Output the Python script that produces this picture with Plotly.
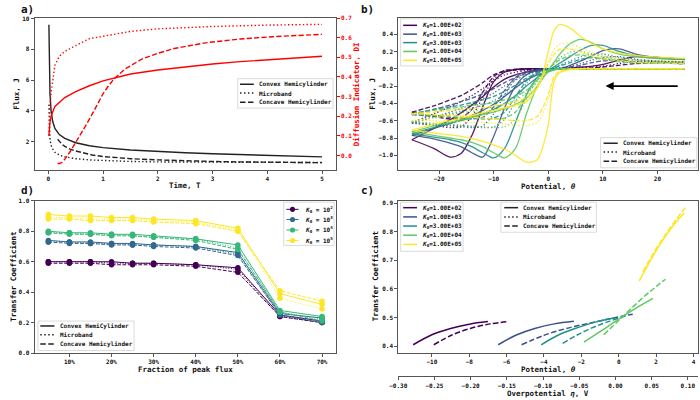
import plotly.graph_objects as go

W, H = 700, 400
FONT = "DejaVu Sans Mono"
BLACK = "#222222"
RED = "#ff0000"
VIR5 = ["#440154", "#3b528b", "#21918c", "#5ec962", "#fde725"]
VIR4 = ["#440154", "#31688e", "#35b779", "#fde725"]

# ---------------- Panel a data ----------------
T_CONVEX = [0.01, 0.015, 0.02, 0.03, 0.05, 0.08, 0.12, 0.2, 0.3, 0.5, 0.75, 1.0, 1.5, 2.0, 2.5, 3.0, 3.5, 4.0, 4.5, 5.0]
J_CONVEX = [9.6, 7.5, 6.3, 5.1, 4.0, 3.3, 2.85, 2.45, 2.2, 1.92, 1.72, 1.6, 1.45, 1.35, 1.27, 1.2, 1.14, 1.09, 1.04, 1.0]
DI_CONVEX = [0.1, 0.13, 0.15, 0.17, 0.2, 0.225, 0.25, 0.27, 0.295, 0.325, 0.355, 0.38, 0.415, 0.435, 0.452, 0.466, 0.478, 0.488, 0.497, 0.505]
T_MICRO = [0.01, 0.015, 0.02, 0.03, 0.05, 0.08, 0.12, 0.2, 0.3, 0.5, 0.75, 1.0, 1.5, 2.0, 3.0, 4.0, 5.0]
J_MICRO = [4.4, 3.2, 2.6, 2.1, 1.75, 1.5, 1.3, 1.12, 1.0, 0.88, 0.8, 0.75, 0.7, 0.67, 0.65, 0.64, 0.63]
DI_MICRO = [0.1, 0.16, 0.2, 0.25, 0.32, 0.39, 0.46, 0.505, 0.53, 0.56, 0.595, 0.607, 0.632, 0.645, 0.657, 0.664, 0.668]
T_CONCAVE = [0.17, 0.2, 0.25, 0.3, 0.4, 0.5, 0.6, 0.8, 1.0, 1.5, 2.0, 2.5, 3.0, 3.5, 4.0, 4.5, 5.0]
J_CONCAVE = [2.15, 2.0, 1.82, 1.68, 1.5, 1.38, 1.28, 1.12, 1.02, 0.88, 0.8, 0.74, 0.7, 0.67, 0.65, 0.63, 0.62]
T_CONCAVE_DI = [0.17, 0.2, 0.25, 0.3, 0.4, 0.5, 0.6, 0.7, 0.8, 0.9, 1.0, 1.1, 1.2, 1.4, 1.7, 2.0, 2.3, 2.9, 3.5, 4.1, 5.0]
DI_CONCAVE = [-0.04, -0.042, -0.035, -0.02, 0.02, 0.065, 0.11, 0.16, 0.21, 0.265, 0.315, 0.355, 0.39, 0.44, 0.49, 0.52, 0.545, 0.575, 0.593, 0.605, 0.617]

# ---------------- Panel b data (forward: lower branch, reverse: upper branch) ----------------
THETA_B = [-25, -21, -18, -16, -14, -12, -10, -8, -6, -4, -2, -1, 0, 1, 2, 4, 6, 8, 10, 13, 16, 20, 25]
K_LABELS_B = ["1.00E+02", "1.00E+03", "3.00E+03", "1.00E+04", "1.00E+05"]

K2_CONVEX_F = [-0.82, -0.92, -1.02, -0.98, -0.77, -0.44, -0.15, -0.04, -0.01, 0, 0, 0, 0, 0, 0, 0, 0, 0, 0, 0, 0, 0, 0]
K2_CONVEX_R = [-0.82, -0.69, -0.59, -0.51, -0.42, -0.32, -0.21, -0.12, -0.07, -0.04, -0.02, -0.015, -0.01, -0.005, 0, 0.01, 0.02, 0.03, 0.05, 0.1, 0.14, 0.13, 0.105]
K2_MICRO_F = [-0.62, -0.65, -0.68, -0.67, -0.55, -0.33, -0.12, -0.03, -0.01, 0, 0, 0, 0, 0, 0, 0, 0, 0, 0, 0, 0, 0, 0]
K2_MICRO_R = [-0.62, -0.52, -0.44, -0.38, -0.31, -0.23, -0.14, -0.07, -0.04, -0.02, -0.01, -0.01, -0.005, 0, 0, 0.005, 0.01, 0.02, 0.03, 0.06, 0.085, 0.085, 0.075]
K2_CONCAVE_F = [-0.5, -0.55, -0.58, -0.57, -0.47, -0.27, -0.09, -0.02, -0.005, 0, 0, 0, 0, 0, 0, 0, 0, 0, 0, 0, 0, 0, 0]
K2_CONCAVE_R = [-0.5, -0.43, -0.36, -0.31, -0.24, -0.16, -0.07, -0.03, -0.015, -0.01, -0.005, -0.003, 0, 0, 0, 0.003, 0.005, 0.01, 0.02, 0.04, 0.06, 0.065, 0.06]

K3_CONVEX_F = [-0.77, -0.81, -0.86, -0.9, -0.97, -1.02, -0.78, -0.45, -0.2, -0.07, -0.02, -0.01, 0, 0, 0, 0, 0, 0, 0, 0, 0, 0, 0]
K3_CONVEX_R = [-0.77, -0.69, -0.63, -0.59, -0.54, -0.48, -0.41, -0.32, -0.22, -0.13, -0.07, -0.05, -0.03, -0.01, 0.0, 0.04, 0.09, 0.15, 0.21, 0.23, 0.17, 0.13, 0.11]
K3_MICRO_F = [-0.63, -0.65, -0.66, -0.67, -0.68, -0.66, -0.52, -0.3, -0.12, -0.04, -0.01, 0, 0, 0, 0, 0, 0, 0, 0, 0, 0, 0, 0]
K3_MICRO_R = [-0.63, -0.56, -0.5, -0.46, -0.41, -0.35, -0.28, -0.2, -0.13, -0.07, -0.035, -0.02, -0.01, 0, 0.01, 0.03, 0.06, 0.1, 0.13, 0.14, 0.11, 0.09, 0.08]
K3_CONCAVE_F = [-0.53, -0.55, -0.56, -0.57, -0.58, -0.56, -0.44, -0.25, -0.1, -0.03, -0.01, 0, 0, 0, 0, 0, 0, 0, 0, 0, 0, 0, 0]
K3_CONCAVE_R = [-0.53, -0.47, -0.42, -0.38, -0.34, -0.29, -0.23, -0.16, -0.1, -0.055, -0.03, -0.02, -0.01, 0, 0.008, 0.02, 0.04, 0.07, 0.09, 0.1, 0.08, 0.065, 0.06]

K33_CONVEX_F = [-0.75, -0.79, -0.82, -0.85, -0.9, -0.97, -1.03, -0.92, -0.62, -0.3, -0.1, -0.05, -0.02, -0.01, 0, 0, 0, 0, 0, 0, 0, 0, 0]
K33_CONVEX_R = [-0.75, -0.68, -0.63, -0.6, -0.56, -0.52, -0.47, -0.4, -0.31, -0.2, -0.1, -0.06, -0.02, 0.02, 0.06, 0.14, 0.22, 0.27, 0.27, 0.2, 0.15, 0.12, 0.11]
K33_MICRO_F = [-0.62, -0.64, -0.65, -0.66, -0.67, -0.68, -0.67, -0.58, -0.38, -0.17, -0.05, -0.02, -0.01, 0, 0, 0, 0, 0, 0, 0, 0, 0, 0]
K33_MICRO_R = [-0.62, -0.56, -0.52, -0.49, -0.46, -0.42, -0.37, -0.3, -0.22, -0.13, -0.06, -0.03, -0.01, 0.01, 0.04, 0.09, 0.14, 0.17, 0.17, 0.13, 0.1, 0.085, 0.08]
K33_CONCAVE_F = [-0.52, -0.54, -0.55, -0.56, -0.57, -0.58, -0.57, -0.5, -0.32, -0.14, -0.04, -0.02, -0.01, 0, 0, 0, 0, 0, 0, 0, 0, 0, 0]
K33_CONCAVE_R = [-0.52, -0.47, -0.44, -0.42, -0.39, -0.36, -0.32, -0.26, -0.19, -0.11, -0.05, -0.03, -0.01, 0.01, 0.03, 0.07, 0.11, 0.13, 0.12, 0.09, 0.07, 0.065, 0.06]

K4_CONVEX_F = [-0.73, -0.77, -0.8, -0.82, -0.85, -0.9, -0.97, -1.03, -0.92, -0.52, -0.2, -0.1, -0.04, -0.015, -0.005, 0, 0, 0, 0, 0, 0, 0, 0]
K4_CONVEX_R = [-0.73, -0.66, -0.62, -0.59, -0.56, -0.53, -0.5, -0.46, -0.41, -0.34, -0.2, -0.11, -0.02, 0.07, 0.16, 0.29, 0.34, 0.3, 0.23, 0.17, 0.14, 0.12, 0.11]
K4_MICRO_F = [-0.61, -0.63, -0.64, -0.65, -0.66, -0.67, -0.68, -0.67, -0.58, -0.35, -0.12, -0.06, -0.02, -0.005, 0, 0, 0, 0, 0, 0, 0, 0, 0]
K4_MICRO_R = [-0.61, -0.56, -0.53, -0.51, -0.49, -0.47, -0.44, -0.41, -0.36, -0.28, -0.15, -0.08, -0.01, 0.06, 0.12, 0.19, 0.2, 0.17, 0.14, 0.11, 0.095, 0.085, 0.08]
K4_CONCAVE_F = [-0.52, -0.54, -0.55, -0.56, -0.57, -0.57, -0.58, -0.57, -0.5, -0.3, -0.1, -0.05, -0.02, -0.005, 0, 0, 0, 0, 0, 0, 0, 0, 0]
K4_CONCAVE_R = [-0.52, -0.48, -0.46, -0.44, -0.42, -0.41, -0.39, -0.36, -0.32, -0.25, -0.13, -0.07, -0.01, 0.05, 0.1, 0.15, 0.16, 0.13, 0.11, 0.08, 0.07, 0.065, 0.06]

K5_CONVEX_F = [-0.71, -0.74, -0.765, -0.78, -0.805, -0.84, -0.88, -0.93, -1.0, -1.08, -1.05, -0.9, -0.65, -0.16, -0.05, -0.01, 0, 0, 0, 0, 0, 0, 0]
K5_CONVEX_R = [-0.71, -0.64, -0.6, -0.57, -0.54, -0.51, -0.48, -0.45, -0.42, -0.38, -0.22, -0.06, 0.2, 0.43, 0.51, 0.47, 0.37, 0.29, 0.23, 0.18, 0.155, 0.135, 0.12]
K5_MICRO_F = [-0.6, -0.6, -0.61, -0.61, -0.62, -0.62, -0.63, -0.64, -0.65, -0.66, -0.62, -0.52, -0.35, -0.12, -0.04, -0.005, 0, 0, 0, 0, 0, 0, 0]
K5_MICRO_R = [-0.6, -0.57, -0.55, -0.54, -0.52, -0.5, -0.48, -0.46, -0.43, -0.37, -0.22, -0.1, 0.08, 0.21, 0.28, 0.29, 0.24, 0.19, 0.15, 0.12, 0.1, 0.09, 0.08]
K5_CONCAVE_F = [-0.52, -0.53, -0.54, -0.55, -0.56, -0.57, -0.58, -0.59, -0.6, -0.6, -0.55, -0.45, -0.3, -0.1, -0.03, -0.005, 0, 0, 0, 0, 0, 0, 0]
K5_CONCAVE_R = [-0.52, -0.5, -0.48, -0.47, -0.46, -0.45, -0.43, -0.41, -0.38, -0.33, -0.2, -0.09, 0.06, 0.16, 0.22, 0.23, 0.19, 0.15, 0.12, 0.09, 0.075, 0.065, 0.06]

B_SERIES = [
    [(K2_CONVEX_F, K2_CONVEX_R), (K2_MICRO_F, K2_MICRO_R), (K2_CONCAVE_F, K2_CONCAVE_R)],
    [(K3_CONVEX_F, K3_CONVEX_R), (K3_MICRO_F, K3_MICRO_R), (K3_CONCAVE_F, K3_CONCAVE_R)],
    [(K33_CONVEX_F, K33_CONVEX_R), (K33_MICRO_F, K33_MICRO_R), (K33_CONCAVE_F, K33_CONCAVE_R)],
    [(K4_CONVEX_F, K4_CONVEX_R), (K4_MICRO_F, K4_MICRO_R), (K4_CONCAVE_F, K4_CONCAVE_R)],
    [(K5_CONVEX_F, K5_CONVEX_R), (K5_MICRO_F, K5_MICRO_R), (K5_CONCAVE_F, K5_CONCAVE_R)],
]
ARROW_FROM = (24.0, -0.2)
ARROW_TO = (10.5, -0.2)

# ---------------- Panel d data ----------------
FRACTION = [5, 10, 15, 20, 25, 30, 40, 50, 60, 70]
FRACTION_TICKS = [10, 20, 30, 40, 50, 60, 70]
FRACTION_LABELS = ["10%", "20%", "30%", "40%", "50%", "60%", "70%"]
K_LABELS_D = ["2", "3", "4", "5"]
D_K2 = ([0.60, 0.60, 0.60, 0.60, 0.59, 0.59, 0.58, 0.56, 0.25, 0.21],
        [0.60, 0.60, 0.60, 0.59, 0.59, 0.59, 0.58, 0.55, 0.24, 0.20],
        [0.59, 0.59, 0.59, 0.58, 0.58, 0.58, 0.57, 0.53, 0.24, 0.20])
D_K3 = ([0.74, 0.73, 0.73, 0.72, 0.72, 0.71, 0.70, 0.66, 0.26, 0.23],
        [0.73, 0.73, 0.72, 0.72, 0.71, 0.71, 0.70, 0.65, 0.25, 0.21],
        [0.73, 0.72, 0.72, 0.71, 0.71, 0.70, 0.69, 0.64, 0.25, 0.20])
D_K4 = ([0.80, 0.79, 0.79, 0.78, 0.78, 0.77, 0.75, 0.71, 0.28, 0.24],
        [0.79, 0.79, 0.78, 0.78, 0.77, 0.76, 0.75, 0.69, 0.27, 0.22],
        [0.79, 0.78, 0.78, 0.77, 0.77, 0.76, 0.74, 0.68, 0.27, 0.21])
D_K5 = ([0.91, 0.90, 0.90, 0.89, 0.89, 0.88, 0.87, 0.82, 0.39, 0.32],
        [0.89, 0.89, 0.88, 0.88, 0.88, 0.87, 0.86, 0.81, 0.36, 0.29],
        [0.88, 0.88, 0.87, 0.87, 0.87, 0.86, 0.85, 0.80, 0.41, 0.34])
D_SERIES = [D_K2, D_K3, D_K4, D_K5]

# ---------------- Panel c data ----------------
C_SERIES = [
    (([-11.0, -10.0, -9.0, -8.0, -7.0], [0.405, 0.44, 0.462, 0.477, 0.486]),
     ([-9.9, -8.9, -7.9, -6.9, -5.9], [0.405, 0.44, 0.463, 0.478, 0.486])),
    (([-6.45, -5.45, -4.45, -3.45, -2.4], [0.405, 0.44, 0.463, 0.478, 0.487]),
     ([-5.2, -4.0, -2.8, -1.6, -0.4, 0.75], [0.405, 0.438, 0.462, 0.48, 0.497, 0.512])),
    (([-4.15, -3.2, -2.2, -1.2, -0.2], [0.405, 0.44, 0.465, 0.485, 0.499]),
     ([-3.0, -2.2, -1.4, -0.6, 0.35], [0.41, 0.44, 0.465, 0.485, 0.505])),
    (([-1.86, -0.9, 0.0, 0.9, 1.83], [0.414, 0.455, 0.495, 0.532, 0.567]),
     ([-0.8, 0.0, 0.8, 1.6, 2.5], [0.44, 0.49, 0.54, 0.587, 0.634])),
    (([1.1, 1.7, 2.3, 2.9, 3.5], [0.628, 0.70, 0.765, 0.82, 0.865]),
     ([1.3, 1.9, 2.5, 3.1, 3.6], [0.66, 0.73, 0.79, 0.845, 0.887])),
]
ETA_RANGE = [-0.300, 0.1145]
ETA_TICKS = [-0.30, -0.25, -0.20, -0.15, -0.10, -0.05, 0.00, 0.05, 0.10]

GEOM = ["Convex Hemicylinder", "Microband", "Concave Hemicylinder"]


def dash_for(style, lw):
    if style == "solid":
        return "solid"
    if style == "dot":
        return f"{1.0*lw:.2f}px,{1.65*lw:.2f}px"
    return f"{3.7*lw:.2f}px,{1.6*lw:.2f}px"


STYLES = ["solid", "dot", "dash"]

fig = go.Figure()

# ---- panel a ----
LW_A = 1.4
for t, j, st in [(T_CONVEX, J_CONVEX, "solid"), (T_MICRO, J_MICRO, "dot"), (T_CONCAVE, J_CONCAVE, "dash")]:
    fig.add_trace(go.Scatter(x=t, y=j, mode="lines", xaxis="x", yaxis="y",
                             line=dict(color=BLACK, width=LW_A, dash=dash_for(st, LW_A))))
for t, d, st in [(T_CONVEX, DI_CONVEX, "solid"), (T_MICRO, DI_MICRO, "dot"), (T_CONCAVE_DI, DI_CONCAVE, "dash")]:
    fig.add_trace(go.Scatter(x=t, y=d, mode="lines", xaxis="x", yaxis="y2",
                             line=dict(color=RED, width=LW_A, dash=dash_for(st, LW_A))))

# ---- panel b ----
LW_B = 1.3
for k, geoms in enumerate(B_SERIES):
    for g, (fwd, rev) in enumerate(geoms):
        for branch in (fwd, rev):
            fig.add_trace(go.Scatter(x=THETA_B, y=branch, mode="lines", xaxis="x2", yaxis="y3",
                                     opacity=0.9,
                                     line=dict(color=VIR5[k], width=LW_B, dash=dash_for(STYLES[g], LW_B),
                                               shape="spline", smoothing=0.8)))
fig.add_annotation(x=ARROW_TO[0], y=ARROW_TO[1], ax=ARROW_FROM[0], ay=ARROW_FROM[1],
                   xref="x2", yref="y3", axref="x2", ayref="y3", text="", showarrow=True,
                   arrowhead=2, arrowsize=0.9, arrowwidth=1.8, arrowcolor="black")

# ---- panel d ----
LW_D = 1.0
for k, series in enumerate(D_SERIES):
    for g, vals in enumerate(series):
        fig.add_trace(go.Scatter(x=FRACTION, y=vals, mode="lines+markers", xaxis="x3", yaxis="y4",
                                 line=dict(color=VIR4[k], width=LW_D, dash=dash_for(STYLES[g], LW_D)),
                                 marker=dict(color=VIR4[k], size=5.5, line=dict(width=0))))

# ---- panel c ----
LW_C = 1.5
for k, (solid, dashed) in enumerate(C_SERIES):
    fig.add_trace(go.Scatter(x=solid[0], y=solid[1], mode="lines", xaxis="x4", yaxis="y5",
                             line=dict(color=VIR5[k], width=LW_C, shape="spline")))
    fig.add_trace(go.Scatter(x=dashed[0], y=dashed[1], mode="lines", xaxis="x4", yaxis="y5",
                             line=dict(color=VIR5[k], width=LW_C, dash=dash_for("dash", LW_C), shape="spline")))
fig.add_trace(go.Scatter(x=[None], y=[None], xaxis="x5", yaxis="y5", mode="lines"))


def pxx(p):
    return p / W


def pxy(p):
    return 1 - p / H


TICKFONT = dict(family=FONT, size=6, color="#111111", weight="bold")
AX = dict(showline=True, linecolor="#555555", linewidth=1, mirror=True, ticks="outside",
          ticklen=3, tickwidth=0.8, tickcolor="#555555", showgrid=False, zeroline=False,
          tickfont=TICKFONT)

A_X = [pxx(26), pxx(331)]
A_Y = [pxy(169), pxy(14)]
B_X = [pxx(394.3), pxx(698.3)]
D_Y = [pxy(355.3), pxy(200.3)]
C_Y = [pxy(355), pxy(200)]

fig.update_layout(
    width=W, height=H, margin=dict(l=0, r=0, t=0, b=0),
    paper_bgcolor="white", plot_bgcolor="white", showlegend=False,
    font=dict(family=FONT, size=6, color="#111111"),
    xaxis=dict(AX, domain=A_X, anchor="y", range=[-0.25, 5.25], tickvals=[0, 1, 2, 3, 4, 5]),
    yaxis=dict(AX, domain=A_Y, anchor="x", range=[0.14, 10.06], tickvals=[2, 4, 6, 8, 10]),
    yaxis2=dict(overlaying="y", side="right", anchor="x", range=[-0.0745, 0.7015],
                tickvals=[0.0, 0.1, 0.2, 0.3, 0.4, 0.5, 0.6, 0.7], tickformat=".1f",
                showline=False, ticks="outside", ticklen=3, tickwidth=0.8, tickcolor=RED,
                showgrid=False, zeroline=False, tickfont=dict(TICKFONT, color=RED)),
    xaxis2=dict(AX, domain=B_X, anchor="y3", range=[-27.5, 27.5], tickvals=[-20, -10, 0, 10, 20]),
    yaxis3=dict(AX, domain=A_Y, anchor="x2", range=[-1.17, 0.589],
                tickvals=[-1.0, -0.8, -0.6, -0.4, -0.2, 0.0, 0.2, 0.4], tickformat=".1f"),
    xaxis3=dict(AX, domain=A_X, anchor="y4", range=[1.75, 73.25], tickvals=FRACTION_TICKS,
                ticktext=FRACTION_LABELS),
    yaxis4=dict(AX, domain=D_Y, anchor="x3", range=[0, 1.0],
                tickvals=[0.0, 0.2, 0.4, 0.6, 0.8, 1.0], tickformat=".1f"),
    xaxis4=dict(AX, domain=B_X, anchor="y5", range=[-11.8, 4.26], tickvals=[-10, -8, -6, -4, -2, 0, 2, 4]),
    yaxis5=dict(AX, domain=C_Y, anchor="x4", range=[0.377, 0.909],
                tickvals=[0.4, 0.5, 0.6, 0.7, 0.8, 0.9], tickformat=".1f"),
    xaxis5=dict(AX, overlaying="x4", anchor="free", position=pxy(379), side="bottom", mirror=False,
                range=ETA_RANGE, tickvals=ETA_TICKS, tickformat=".2f"),
)

anns = []
shapes = []


def text_ann(text, x, y, angle=0, color="#111111", size=7.5, xanchor="center"):
    anns.append(dict(text=f"<b>{text}</b>", x=pxx(x), y=pxy(y), xref="paper", yref="paper",
                     showarrow=False, textangle=angle, xanchor=xanchor, yanchor="middle",
                     font=dict(family=FONT, size=size, color=color)))


# axis titles
text_ann("Flux, J", 8, 91.5, angle=-90)
text_ann("Time, T", 178.5, 185)
text_ann("Diffusion Indicator, DI", 352, 91.5, angle=-90, color=RED)
text_ann("Flux, J", 368.5, 91.5, angle=-90)
text_ann("Potential, <i>θ</i>", 546.3, 185.5)
text_ann("Transfer Coefficient", 5, 277.7, angle=-90)
text_ann("Fraction of peak flux", 178.5, 372.3)
text_ann("Transfer Coefficient", 371.5, 277.5, angle=-90)
text_ann("Potential, <i>θ</i>", 546.3, 372.3)
text_ann("Overpotential <i>η</i>, V", 546.3, 396)
# panel letters
text_ann("a)", 18.5, 5.5, size=11)
text_ann("b)", 363.5, 5.5, size=11)
text_ann("d)", 18.5, 190, size=11)
text_ann("c)", 363.5, 189.5, size=11)


def add_legend(box, rows, line_x, text_x, entries, lw=1.5, marker_x=None):
    x0, y0, x1, y1 = box
    shapes.append(dict(type="rect", xref="paper", yref="paper", x0=pxx(x0), x1=pxx(x1),
                       y0=pxy(y1), y1=pxy(y0), line=dict(color="#d0d0d0", width=0.8),
                       fillcolor="rgba(255,255,255,0.85)", layer="above"))
    for (label, color, style), yy in zip(entries, rows):
        shapes.append(dict(type="line", xref="paper", yref="paper", x0=pxx(line_x[0]), x1=pxx(line_x[1]),
                           y0=pxy(yy), y1=pxy(yy), layer="above",
                           line=dict(color=color, width=lw, dash=dash_for(style, lw))))
        if marker_x is not None:
            r = 2.6
            shapes.append(dict(type="circle", xref="paper", yref="paper", x0=pxx(marker_x - r),
                               x1=pxx(marker_x + r), y0=pxy(yy + r), y1=pxy(yy - r), layer="above",
                               fillcolor=color, line=dict(width=0)))
        anns.append(dict(text=f"<b>{label}</b>", x=pxx(text_x), y=pxy(yy), xref="paper", yref="paper",
                         xanchor="left", yanchor="middle", showarrow=False,
                         font=dict(family=FONT, size=6, color="#111111")))


STYLE_ENTRIES = [(GEOM[i], BLACK, STYLES[i]) for i in range(3)]
K_ENTRIES_B = [(f"<i>K</i><sub>0</sub>={K_LABELS_B[i]}", VIR5[i], "solid") for i in range(5)]
K_ENTRIES_D = [(f"<i>K</i><sub>0</sub> = 10<sup>{K_LABELS_D[i]}</sup>", VIR4[i], "solid") for i in range(4)]
D_STYLE_ENTRIES = [("Convex HemiCylinder", BLACK, "solid"), ("Microband", BLACK, "dot"),
                   ("Concave Hemicylinder", BLACK, "dash")]

add_legend((231.7, 76, 328.3, 106), [81.7, 90.7, 100], (234, 248), 251.7, STYLE_ENTRIES)
add_legend((396.7, 15, 460, 63), [21.7, 30.7, 39.3, 48.3, 57.3], (399.3, 413.3), 416, K_ENTRIES_B)
add_legend((599.3, 136, 696.7, 166.7), [141.7, 150.7, 160], (602.3, 616.7), 620, STYLE_ENTRIES)
add_legend((278.3, 201.7, 329.3, 245.7), [209, 219.3, 230, 240.7], (281, 293.3), 297.7, K_ENTRIES_D,
           lw=1.0, marker_x=287.2)
add_legend((29.3, 322.7, 126.7, 352.7), [327.7, 336.7, 346], (31.7, 46), 49.3, D_STYLE_ENTRIES)
add_legend((396.7, 201.7, 460, 251.7), [207.3, 216.7, 226, 235.3, 244.7], (399.3, 413.3), 416, K_ENTRIES_B)
add_legend((498.3, 201.7, 595, 232.3), [207.3, 216.7, 226], (501.7, 515.7), 518.3, STYLE_ENTRIES)

fig.update_layout(annotations=list(fig.layout.annotations) + anns, shapes=shapes)

fig.write_html("out.html", config={"displayModeBar": False})
